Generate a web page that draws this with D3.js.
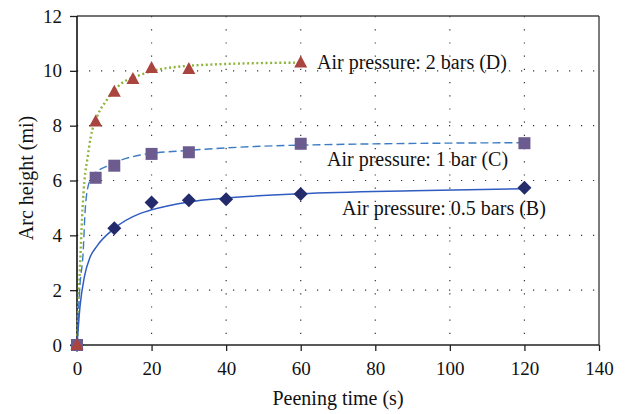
<!DOCTYPE html>
<html><head><meta charset="utf-8">
<script src="https://cdn.jsdelivr.net/npm/d3@7"></script>
<style>body{margin:0;background:#fff}svg{display:block}</style>
</head><body><svg id="c" width="626" height="414"></svg>
<script>
// Measured points
const timesB = [0, 10, 20, 30, 40, 60, 120];
const valuesB = [0, 4.26, 5.2, 5.28, 5.32, 5.51, 5.74];
const timesC = [0, 5, 10, 20, 30, 60, 120];
const valuesC = [0, 6.1, 6.54, 6.97, 7.03, 7.34, 7.36];
const timesD = [0, 5, 10, 15, 20, 30, 60];
const valuesD = [0, 8.15, 9.24, 9.7, 10.1, 10.07, 10.3];
// Trend curves
const fitTB = [0, 0.8, 2, 3.5, 5.3, 10, 17, 20, 30, 40, 60, 90, 120];
const fitVB = [0, 1.4, 2.5, 3.2, 3.6, 4.25, 4.8, 4.93, 5.22, 5.36, 5.52, 5.63, 5.7];
const fitTC = [0, 0.7, 1.7, 2.1, 3, 4.4, 8.8, 17, 30, 40, 60, 120];
const fitVC = [0, 2, 3.5, 4.7, 5.8, 6.2, 6.57, 6.93, 7.1, 7.19, 7.29, 7.38];
const fitTD = [0, 0.4, 1, 1.5, 2, 2.8, 3.7, 5.3, 8, 11.5, 17, 24, 40, 60];
const fitVD = [0, 1.5, 3.5, 5, 6, 6.8, 7.6, 8.3, 8.94, 9.49, 9.85, 10.1, 10.25, 10.3];
const labels = ["Air pressure: 0.5 bars (B)", "Air pressure: 1 bar (C)", "Air pressure: 2 bars (D)"];
const xTicks = [0, 20, 40, 60, 80, 100, 120, 140];
const yTicks = [0, 2, 4, 6, 8, 10, 12];

const FONT = "Tinos, 'Times New Roman', Times, 'Liberation Serif', 'Noto Serif', 'DejaVu Serif', FreeSerif, serif";
const svg = d3.select("#c").attr("font-family", FONT);
const x = d3.scaleLinear().domain([0, 140]).range([77, 599]);
const y = d3.scaleLinear().domain([0, 12]).range([345, 16]);

// grid
const g = svg.append("g");
g.selectAll("line.h").data(yTicks.filter(v => v > 0 && v < 12)).join("line")
  .attr("x1", x(0)).attr("x2", x(140)).attr("y1", d => y(d)).attr("y2", d => y(d))
  .attr("stroke", "#333").attr("stroke-width", 1.2).attr("stroke-dasharray", "1.2,10.8");
g.selectAll("line.v").data(xTicks.filter(v => v > 0 && v < 140)).join("line")
  .attr("y1", y(12)).attr("y2", y(0)).attr("x1", d => x(d)).attr("x2", d => x(d))
  .attr("stroke", "#333").attr("stroke-width", 1.2).attr("stroke-dasharray", "1.2,12");

// axes
const xAxis = svg.append("g").attr("transform", `translate(0,${y(0)})`)
  .call(d3.axisBottom(x).tickValues(xTicks).tickSize(6).tickPadding(8));
const yAxis = svg.append("g").attr("transform", `translate(${x(0)},0)`)
  .call(d3.axisLeft(y).tickValues(yTicks).tickSize(7).tickPadding(8));
[xAxis, yAxis].forEach(a => {
  a.attr("font-family", FONT).attr("font-size", 19);
  a.select(".domain").remove();
  a.selectAll("line").attr("stroke", "#222").attr("stroke-width", 1.3);
  a.selectAll("text").attr("fill", "#111").style("font-family", FONT);
});
xAxis.selectAll("text").attr("dy", "0.85em");
// frame
svg.append("line").attr("x1", x(0)).attr("x2", x(140)).attr("y1", y(12)).attr("y2", y(12)).attr("stroke", "#444").attr("stroke-width", 1.4);
svg.append("line").attr("x1", x(140)).attr("x2", x(140)).attr("y1", y(12)).attr("y2", y(0)).attr("stroke", "#444").attr("stroke-width", 1.4);
svg.append("line").attr("x1", x(0)).attr("x2", x(140)).attr("y1", y(0)).attr("y2", y(0)).attr("stroke", "#222").attr("stroke-width", 1.5);
svg.append("line").attr("x1", x(0)).attr("x2", x(0)).attr("y1", y(12)).attr("y2", y(0)).attr("stroke", "#111").attr("stroke-width", 1.6);

// curves
const line = d3.line().x(d => x(d[0])).y(d => y(d[1])).curve(d3.curveMonotoneX);
const zip = (a, b) => a.map((t, i) => [t, b[i]]);
svg.append("path").attr("d", line(zip(fitTD, fitVD))).attr("fill", "none")
  .attr("stroke", "#8fb43c").attr("stroke-width", 2.4).attr("stroke-dasharray", "2,2.6");
svg.append("path").attr("d", line(zip(fitTC, fitVC))).attr("fill", "none")
  .attr("stroke", "#3d7cc4").attr("stroke-width", 1.4).attr("stroke-dasharray", "8,4");
svg.append("path").attr("d", line(zip(fitTB, fitVB))).attr("fill", "none")
  .attr("stroke", "#2f5cc0").attr("stroke-width", 1.5);

// markers
svg.append("g").selectAll("path").data(zip(timesB, valuesB)).join("path")
  .attr("d", "M0,-7L7,0L0,7L-7,0Z")
  .attr("transform", d => `translate(${x(d[0])},${y(d[1])})`)
  .attr("fill", "#232b6c");
svg.append("g").selectAll("rect").data(zip(timesC, valuesC)).join("rect")
  .attr("x", d => x(d[0]) - 6).attr("y", d => y(d[1]) - 6).attr("width", 12).attr("height", 12)
  .attr("fill", "#6c5b8e");
svg.append("g").selectAll("path").data(zip(timesD, valuesD)).join("path")
  .attr("d", "M0,-7L6.5,5L-6.5,5Z")
  .attr("transform", d => `translate(${x(d[0])},${y(d[1])})`)
  .attr("fill", "#a9443f");

// series labels
const lab = svg.append("g").attr("font-size", 20).attr("fill", "#111");
lab.append("text").attr("x", 317).attr("y", 69).text(labels[2]);
lab.append("text").attr("x", 327).attr("y", 166).text(labels[1]);
lab.append("text").attr("x", 342).attr("y", 215).text(labels[0]);

// axis titles
svg.append("text").attr("x", (x(0) + x(140)) / 2).attr("y", 405).attr("text-anchor", "middle")
  .attr("font-size", 20).attr("fill", "#111").text("Peening time (s)");
svg.append("text").attr("transform", "translate(33,178) rotate(-90)").attr("text-anchor", "middle")
  .attr("font-size", 20).attr("fill", "#111").text("Arc height (mi)");
</script></body></html>
